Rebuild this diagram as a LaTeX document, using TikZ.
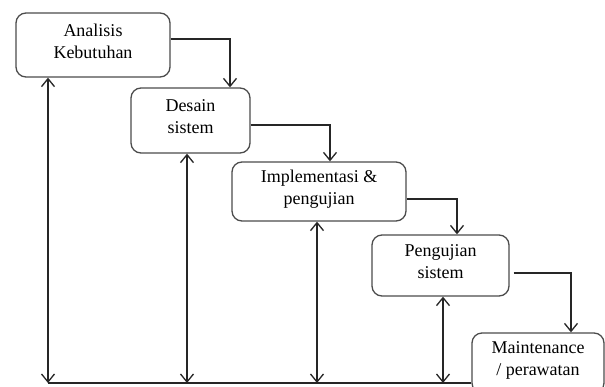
\documentclass[tikz,border=0pt]{standalone}
\usepackage{fontspec}
\setmainfont{Liberation Serif}
\usetikzlibrary{arrows.meta}

\tikzset{
	tahap/.style={draw=black!70, rounded corners=10pt, align=center, inner sep=0pt, text depth=8pt, font=\fontsize{18}{22}\selectfont},
	alur/.style={draw=black!85, ->}
}

\begin{document}
\begin{tikzpicture}[x=1pt, y=-1pt, line width=1.3pt, >={Straight Barb[length=8pt,width=13pt]}]
	\useasboundingbox (0,0) rectangle (605,386);
	\node at (93,45) [tahap, minimum width=154pt, minimum height=64pt] (analisis) {Analisis\\Kebutuhan};
	\node at (190.5,120.5) [tahap, minimum width=119pt, minimum height=65pt] (desain) {Desain\\sistem};
	\node at (319,191.5) [tahap, minimum width=174pt, minimum height=59pt] (implementasi) {Implementasi \&\\pengujian};
	\node at (440.5,265.5) [tahap, minimum width=137pt, minimum height=61pt] (pengujian) {Pengujian\\sistem};
	\node at (538,363) [tahap, minimum width=132pt, minimum height=60pt] (maintenance) {Maintenance\\/ perawatan};
	\coordinate (dasar) at (48,383);
	
	\draw [alur] ([yshift=6pt]analisis.east) -| ([xshift=39.5pt]desain.north);
	\draw [alur] ([yshift=-4.5pt]desain.east) -| ([xshift=11pt]implementasi.north);
	\draw [alur] ([yshift=-7.5pt]implementasi.east) -| ([xshift=16.5pt]pengujian.north);
	\draw [alur] ([xshift=4pt, yshift=-7.5pt]pengujian.east) -| ([xshift=33pt]maintenance.north);
	\draw [alur, <->] ([xshift=-45pt]analisis.south) -- (dasar);
	\draw [alur, <->] ([xshift=-3.5pt]desain.south) -- ([xshift=-3.5pt]desain.south |- dasar);
	\draw [alur, <->] ([xshift=-2pt]implementasi.south) -- ([xshift=-2pt]implementasi.south |- dasar);
	\draw [alur, <->] ([xshift=2.5pt]pengujian.south) -- ([xshift=2.5pt]pengujian.south |- dasar);
	\draw [draw=black!85] (dasar) -- (dasar -| maintenance.west);
\end{tikzpicture}
\end{document}
